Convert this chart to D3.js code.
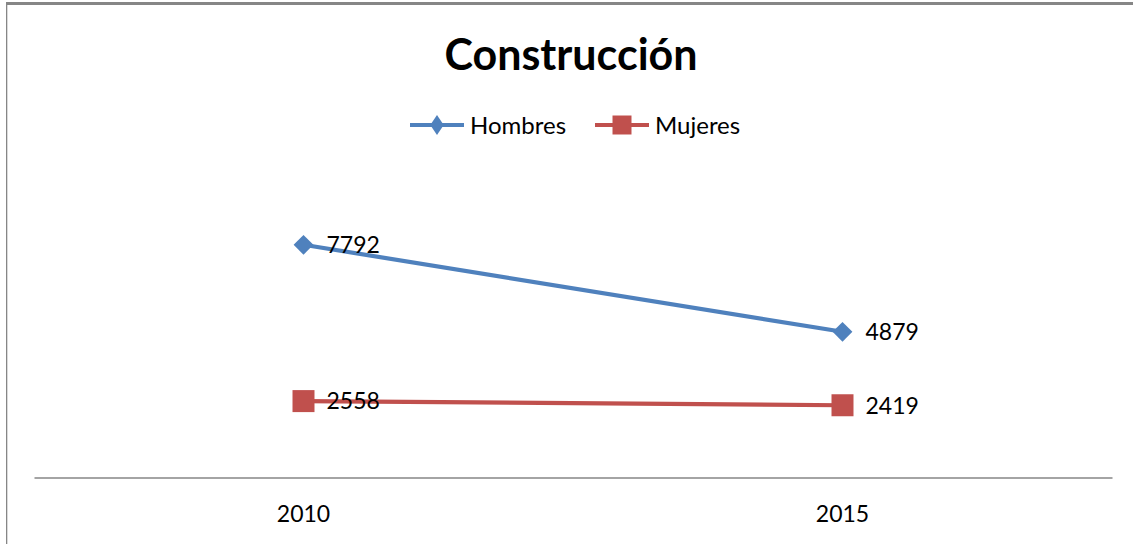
<!DOCTYPE html>
<html><head><meta charset="utf-8">
<script src="https://cdn.jsdelivr.net/npm/d3@7"></script>
<style>html,body{margin:0;padding:0;background:#fff;}svg{display:block;}text{font-family:Lato,"Open Sans",sans-serif;}</style>
</head><body>
<svg id="c" width="1133" height="544"></svg>
<script>
const title = "Construcción";
const categories = ["2010", "2015"];
const seriesNames = ["Hombres", "Mujeres"];
const hombres = [7792, 4879];
const mujeres = [2558, 2419];
const colors = ["#4F81BD", "#C0504D"];

const W = 1133, H = 544;
const svg = d3.select("#c");
const plot = {left: 34, right: 1112, top: 208.7, bottom: 477.5};

// frame
svg.append("rect").attr("x", 6).attr("y", 2).attr("width", W - 6).attr("height", 3).attr("fill", "#868686");
svg.append("rect").attr("x", 6).attr("y", 2).attr("width", 1.3).attr("height", H).attr("fill", "#868686");

const x = d3.scaleBand().domain(categories).range([plot.left, plot.right]);
const y = d3.scaleLinear().domain([0, 9000]).range([plot.bottom, plot.top]);

// axis
const ax = svg.append("g").attr("transform", `translate(0,${plot.bottom})`)
  .call(d3.axisBottom(x).tickSize(0).tickPadding(44));
ax.select(".domain").attr("stroke", "#868686").attr("stroke-width", 1.3);
ax.selectAll("text").attr("font-size", 23).attr("fill", "#000")
  .attr("font-family", "Lato").attr("dy", "0");

const series = [
  {name: seriesNames[0], values: hombres, color: colors[0], sym: d3.symbolDiamond2, size: 250, lsize: 250, lsx: 0.68},
  {name: seriesNames[1], values: mujeres, color: colors[1], sym: d3.symbolSquare, size: 484, lsize: 361, lsx: 1}
];
const cx = c => x(c) + x.bandwidth() / 2;
const line = d3.line().x((d, i) => cx(categories[i])).y(d => y(d));

series.forEach(s => {
  svg.append("path").datum(s.values).attr("d", line)
    .attr("fill", "none").attr("stroke", s.color).attr("stroke-width", 4.2);
  svg.selectAll(null).data(s.values).enter().append("path")
    .attr("d", d3.symbol().type(s.sym).size(s.size))
    .attr("transform", (d, i) => `translate(${cx(categories[i])},${y(d)})`)
    .attr("fill", s.color);
  svg.selectAll(null).data(s.values).enter().append("text")
    .attr("x", (d, i) => cx(categories[i]) + 23)
    .attr("y", d => y(d)).attr("dy", "0.36em")
    .attr("font-size", 23).attr("fill", "#000")
    .text(d => d);
});

// title
svg.append("text").attr("x", 571).attr("y", 70).attr("text-anchor", "middle")
  .attr("font-size", 43).attr("font-weight", "bold").attr("fill", "#000").text(title);

// legend
const legX = [410, 595];
series.forEach((s, i) => {
  const g = svg.append("g").attr("transform", `translate(${legX[i]},125)`);
  g.append("line").attr("x1", 0).attr("x2", 54).attr("stroke", s.color).attr("stroke-width", 4.2);
  g.append("path").attr("d", d3.symbol().type(s.sym).size(s.lsize)).attr("transform", `translate(27,0) scale(${s.lsx},1)`).attr("fill", s.color);
  g.append("text").attr("x", 60).attr("dy", "0.36em").attr("font-size", 24).attr("fill", "#000").text(s.name);
});
</script>
</body></html>
